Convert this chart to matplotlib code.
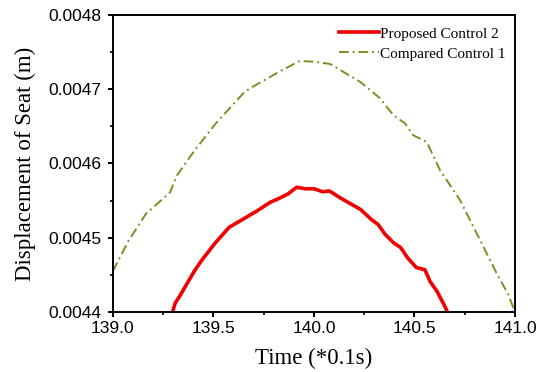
import matplotlib
matplotlib.use("Agg")
import matplotlib.pyplot as plt
from matplotlib.ticker import MultipleLocator, FormatStrFormatter

# Proposed Control 2 (red)
t_prop = [139.297, 139.31, 139.336, 139.405, 139.44, 139.509, 139.578, 139.647,
          139.716, 139.784, 139.819, 139.871, 139.914, 139.957, 140.0, 140.043,
          140.078, 140.129, 140.181, 140.233, 140.284, 140.319, 140.353, 140.397,
          140.431, 140.466, 140.509, 140.552, 140.578, 140.612, 140.647, 140.664]
y_prop = [0.00440, 0.004412, 0.004423, 0.004455, 0.004469, 0.004493, 0.004514, 0.004525,
          0.004536, 0.004548, 0.004552, 0.004559, 0.004568, 0.004566, 0.004566, 0.004562,
          0.004563, 0.004554, 0.004546, 0.004538, 0.004525, 0.004518, 0.004505, 0.004493,
          0.004487, 0.004473, 0.004460, 0.004457, 0.004441, 0.004428, 0.004410, 0.00440]

# Compared Control 1 (olive, dash-dot)
t_comp = [139.0, 139.078, 139.164, 139.284, 139.319, 139.405, 139.509, 139.647,
          139.681, 139.831, 139.930, 139.997, 140.08, 140.229, 140.328, 140.395,
          140.453, 140.494, 140.561, 140.627, 140.726, 140.826, 140.909, 140.966, 141.0]
y_comp = [0.004455, 0.004496, 0.004532, 0.004561, 0.004584, 0.004617, 0.004653, 0.004694,
          0.004701, 0.004724, 0.004738, 0.004737, 0.004734, 0.004710, 0.004688, 0.004665,
          0.004654, 0.004638, 0.004629, 0.004591, 0.004551, 0.004497, 0.004452, 0.004424, 0.00440]

fig = plt.figure(figsize=(5.45, 3.72), dpi=100)
ax = fig.add_axes([0.207, 0.161, 0.738, 0.799])

ax.plot(t_prop, y_prop, color="#f00000", lw=2.6, label="Proposed Control 2")
ax.plot(t_comp, y_comp, color="#7f8e24", lw=1.4, ls=(0, (5, 2, 1, 2)), label="Compared Control 1")

ax.set_xlim(139.0, 141.0)
ax.set_ylim(0.0044, 0.0048)
ax.xaxis.set_major_locator(MultipleLocator(0.5))
ax.xaxis.set_minor_locator(MultipleLocator(0.25))
ax.yaxis.set_major_locator(MultipleLocator(0.0001))
ax.yaxis.set_minor_locator(MultipleLocator(0.00005))
ax.xaxis.set_major_formatter(FormatStrFormatter("%.1f"))
ax.yaxis.set_major_formatter(FormatStrFormatter("%.4f"))

for s in ax.spines.values():
    s.set_linewidth(1.4)
ax.tick_params(which="major", direction="out", length=3.6, width=1.4,
               labelsize=12.5, top=False, right=False)
ax.tick_params(axis="y", which="major", pad=4.5)
ax.tick_params(axis="x", which="major", pad=3)
ax.tick_params(which="minor", direction="out", length=2.2, width=1.2, top=False, right=False)
for lab in ax.get_xticklabels() + ax.get_yticklabels():
    lab.set_family("Liberation Sans")

ax.set_xlabel("Time (*0.1s)", family="Liberation Serif", fontsize=16.5, labelpad=8)
ax.set_ylabel("Displacement of Seat (m)", family="Liberation Serif", fontsize=16.5, labelpad=9)

ax.legend(loc="upper right", frameon=False, prop={"family": "Liberation Serif", "size": 11},
          handlelength=2.6, handletextpad=0.1, labelspacing=0.4,
          bbox_to_anchor=(1.0, 0.99), borderaxespad=0.2)

fig.savefig("out.png", dpi=100)
